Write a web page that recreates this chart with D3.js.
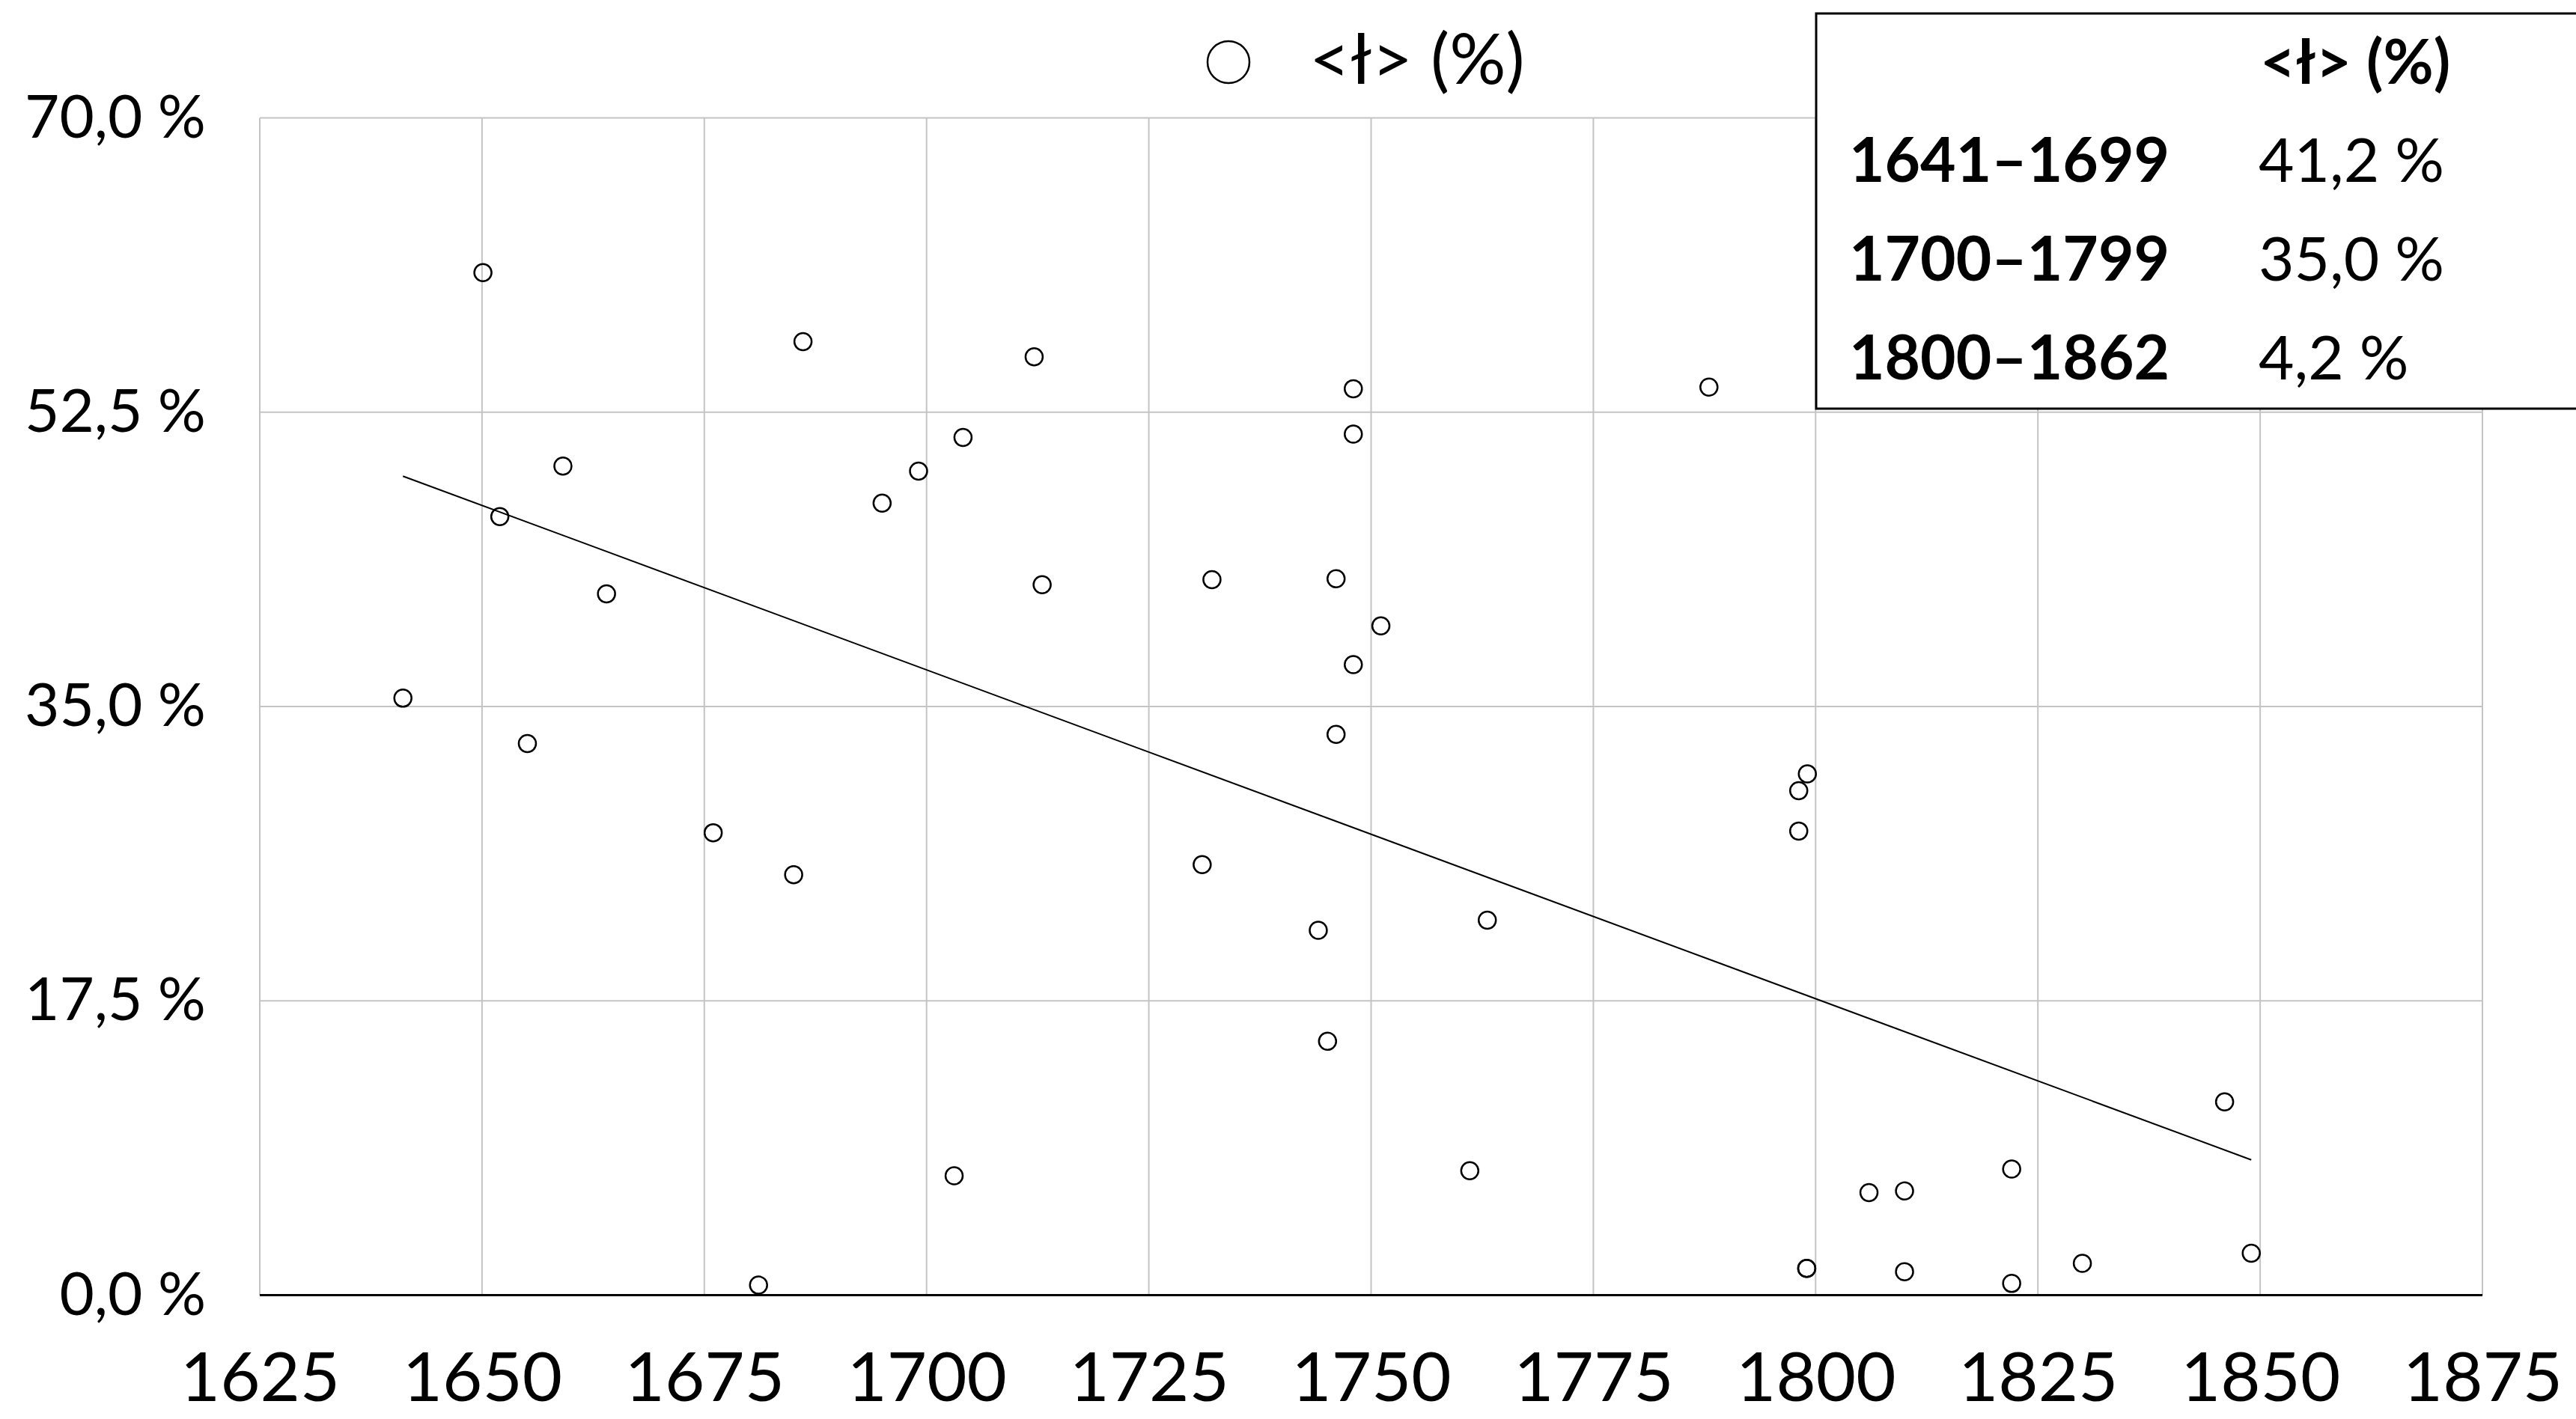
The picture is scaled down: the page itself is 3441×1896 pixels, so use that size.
<!DOCTYPE html>
<html>
<head>
<meta charset="utf-8">
<script src="https://cdn.jsdelivr.net/npm/d3@7"></script>
<style>
  html, body { margin: 0; padding: 0; background: #fff; }
  svg { display: block; }
  text { font-family: Lato, "Open Sans", "Liberation Sans", sans-serif; fill: #000; }
</style>
</head>
<body>
<svg id="chart" width="3441" height="1896"></svg>
<script>
// ---------- data ----------
const years = [1641.1, 1650.1, 1652.0, 1655.1, 1659.1, 1664.0, 1676.0, 1681.1, 1685.05, 1686.1,
               1695.0, 1699.1, 1703.1, 1704.1, 1712.1, 1713.0, 1731.0, 1732.1, 1744.06, 1745.1,
               1746.06, 1746.06, 1748.0, 1748.0, 1748.0, 1751.1, 1761.1, 1763.07, 1788.0, 1798.1,
               1798.1, 1799.07, 1799.0, 1799.0, 1806.0, 1810.0, 1810.0, 1822.05, 1822.05, 1830.0,
               1846.0, 1849.0];
const lValues = [35.5, 60.8, 46.3, 32.8, 49.3, 41.7, 27.5, 0.6, 25.0, 56.7,
                 47.1, 49.0, 7.1, 51.0, 55.8, 42.25, 25.6, 42.55, 21.7, 15.1,
                 42.6, 33.35, 53.9, 51.2, 37.5, 39.8, 7.4, 22.3, 54.0, 30.0,
                 27.6, 31.0, 1.6, 1.6, 6.1, 6.2, 1.4, 7.5, 0.7, 1.9,
                 11.5, 2.5];
const trendYears = [1641.1, 1849.0];
const trendValues = [48.7, 8.05];
const xTicks = [1625, 1650, 1675, 1700, 1725, 1750, 1775, 1800, 1825, 1850, 1875];
const yTicks = [0, 17.5, 35, 52.5, 70];
const legendLabel = "<ł> (%)";
const tableHeader = "<ł> (%)";
const tablePeriods = ["1641–1699", "1700–1799", "1800–1862"];
const tableValues = [41.2, 35.0, 4.2];

// ---------- layout ----------
const svg = d3.select("#chart");
const x = d3.scaleLinear().domain([1625, 1875]).range([347, 3316]);
const y = d3.scaleLinear().domain([0, 70]).range([1730.6, 157.6]);
const loc = d3.formatLocale({decimal: ",", thousands: " ", grouping: [3], currency: ["", ""]});
const f1 = loc.format(".1f");
const pct = v => f1(v) + " %";

// gridlines
const grid = svg.append("g").attr("stroke", "#c4c4c4").attr("stroke-width", 2);
grid.selectAll("line.v").data(xTicks).join("line")
  .attr("x1", d => x(d)).attr("x2", d => x(d))
  .attr("y1", y(0)).attr("y2", y(70));
grid.selectAll("line.h").data(yTicks).join("line")
  .attr("x1", x(1625)).attr("x2", x(1875))
  .attr("y1", d => y(d)).attr("y2", d => y(d));

// y axis labels
const yAxis = svg.append("g").attr("transform", `translate(${x(1625)},0)`)
  .call(d3.axisLeft(y).tickValues(yTicks).tickSize(0).tickPadding(72).tickFormat(pct));
yAxis.select(".domain").remove();
yAxis.selectAll("text").attr("font-size", 80).attr("font-family", null).attr("fill", "#000");

// x axis labels
const xAxis = svg.append("g").attr("transform", `translate(0,${y(0)})`)
  .call(d3.axisBottom(x).tickValues(xTicks).tickSize(0).tickPadding(76).tickFormat(d3.format("d")));
xAxis.select(".domain").remove();
xAxis.selectAll("text").attr("font-size", 92).attr("font-family", null).attr("fill", "#000");

// baseline
svg.append("line")
  .attr("x1", x(1625)).attr("x2", x(1875))
  .attr("y1", y(0)).attr("y2", y(0))
  .attr("stroke", "#000").attr("stroke-width", 3);

// trend line
const pts = trendYears.map((d, i) => [d, trendValues[i]]);
svg.append("path")
  .attr("d", d3.line().x(d => x(d[0])).y(d => y(d[1]))(pts))
  .attr("fill", "none").attr("stroke", "#000").attr("stroke-width", 2);

// points
svg.append("g").selectAll("circle").data(years.map((d, i) => [d, lValues[i]])).join("circle")
  .attr("cx", d => x(d[0])).attr("cy", d => y(d[1])).attr("r", 11.5)
  .attr("fill", "none").attr("stroke", "#000").attr("stroke-width", 2.5);

// legend
svg.append("circle").attr("cx", 1641).attr("cy", 83).attr("r", 28)
  .attr("fill", "none").attr("stroke", "#000").attr("stroke-width", 2.5);
svg.append("text").attr("x", 1749).attr("y", 112).attr("font-size", 94).text(legendLabel);

// table box
const tbl = svg.append("g");
tbl.append("rect").attr("x", 2426).attr("y", 18).attr("width", 1100).attr("height", 528)
  .attr("fill", "#fff").attr("stroke", "#000").attr("stroke-width", 3);
tbl.append("text").attr("x", 3019).attr("y", 112).attr("font-size", 82).attr("font-weight", "bold").text(tableHeader);
const rowY = d3.scalePoint().domain(tablePeriods).range([243, 507]);
tbl.selectAll("text.p").data(tablePeriods).join("text")
  .attr("x", 2470).attr("y", d => rowY(d)).attr("font-size", 82).attr("font-weight", "bold").text(d => d);
tbl.selectAll("text.v").data(tableValues).join("text")
  .attr("x", 3017).attr("y", (d, i) => rowY(tablePeriods[i])).attr("font-size", 82).text(d => pct(d));
</script>
</body>
</html>
